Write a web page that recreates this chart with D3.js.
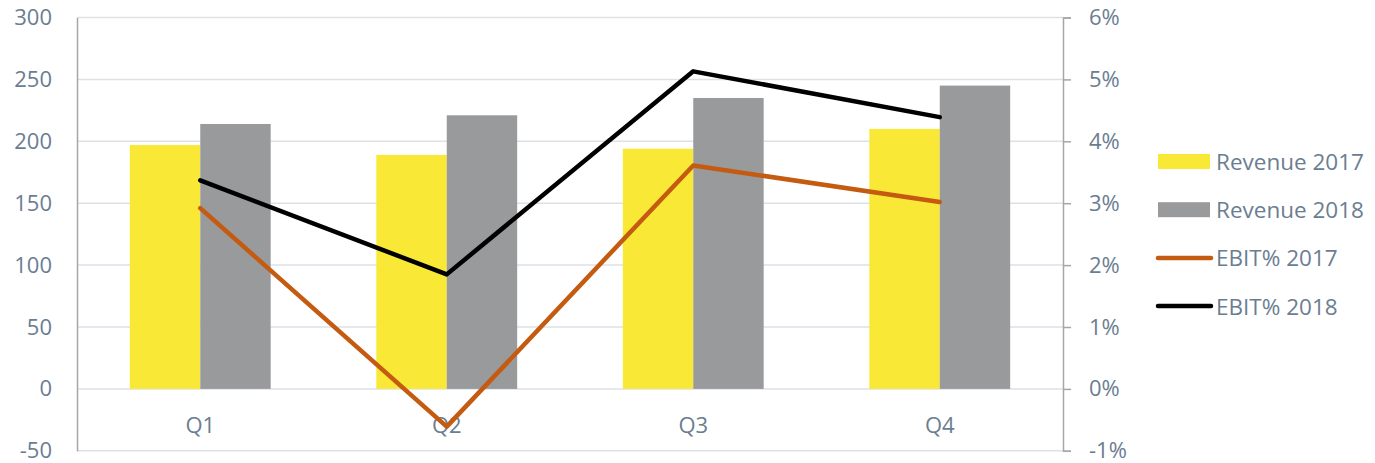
<!DOCTYPE html>
<html>
<head>
<meta charset="utf-8">
<script src="https://cdn.jsdelivr.net/npm/d3@7"></script>
<style>
  html, body { margin: 0; padding: 0; background: #fff; }
  svg { display: block; }
  text { font-family: "Open Sans", sans-serif; fill: #6b7d91; }
</style>
</head>
<body>
<svg id="chart" width="1375" height="463"></svg>
<script>
// Quarterly revenue (left axis) and EBIT margin (right axis, %)
const quarters = ["Q1", "Q2", "Q3", "Q4"];
const revenue2017 = [197, 189, 194, 210];
const revenue2018 = [214, 221, 235, 245];
const ebit2017 = [2.92, -0.61, 3.61, 3.02];
const ebit2018 = [3.37, 1.85, 5.13, 4.39];
const leftTicks = [-50, 0, 50, 100, 150, 200, 250, 300];
const rightTicks = [-1, 0, 1, 2, 3, 4, 5, 6];
const seriesNames = ["Revenue 2017", "Revenue 2018", "EBIT% 2017", "EBIT% 2018"];

const colors = {
  rev17: "#f9e936",
  rev18: "#999a9c",
  ebit17: "#c55a11",
  ebit18: "#000000",
  grid: "#dde1e6",
  axis: "#a6a6a6"
};

const svg = d3.select("#chart");
const plot = { left: 77, right: 1063, top: 17.5, bottom: 450.8 };

const x = d3.scaleBand().domain(quarters).range([plot.left, plot.right]);
const bars = d3.scaleBand().domain(["2017", "2018"])
  .range([0, x.bandwidth()]).paddingInner(0).paddingOuter(0.75);
const yL = d3.scaleLinear().domain([-50, 300]).range([plot.bottom, plot.top]);
const yR = d3.scaleLinear().domain([-1, 6]).range([plot.bottom, plot.top]);

// Plain hyphen for negative numbers
const fmt = d => (d < 0 ? "-" : "") + Math.abs(d);

// Horizontal gridlines
svg.append("g").selectAll("line").data(leftTicks).join("line")
  .attr("x1", plot.left).attr("x2", plot.right)
  .attr("y1", d => yL(d)).attr("y2", d => yL(d))
  .attr("stroke", colors.grid).attr("stroke-width", 1.5);

// Left axis
const leftAxis = svg.append("g").attr("transform", `translate(${plot.left},0)`)
  .call(d3.axisLeft(yL).tickValues(leftTicks).tickSize(0).tickPadding(25).tickFormat(fmt));
leftAxis.select(".domain").attr("stroke", colors.axis).attr("stroke-width", 1.5);
leftAxis.selectAll("text").style("font-size", "22px").attr("fill", "#6b7d91").attr("font-family", null);

// Right axis
const rightAxis = svg.append("g").attr("transform", `translate(${plot.right},0)`)
  .call(d3.axisRight(yR).tickValues(rightTicks).tickSize(8).tickSizeOuter(8)
    .tickPadding(18).tickFormat(d => fmt(d) + "%"));
rightAxis.selectAll(".domain, .tick line").attr("stroke", colors.axis).attr("stroke-width", 1.5);
rightAxis.selectAll("text").style("font-size", "22px").attr("fill", "#6b7d91").attr("font-family", null);

// Revenue bars
const groups = svg.append("g").selectAll("g").data(quarters).join("g")
  .attr("transform", d => `translate(${x(d)},0)`);
groups.append("rect")
  .attr("x", bars("2017")).attr("width", bars.bandwidth())
  .attr("y", (d, i) => yL(revenue2017[i]))
  .attr("height", (d, i) => yL(0) - yL(revenue2017[i]))
  .attr("fill", colors.rev17);
groups.append("rect")
  .attr("x", bars("2018")).attr("width", bars.bandwidth())
  .attr("y", (d, i) => yL(revenue2018[i]))
  .attr("height", (d, i) => yL(0) - yL(revenue2018[i]))
  .attr("fill", colors.rev18);

// Category labels
svg.append("g").selectAll("text").data(quarters).join("text")
  .attr("x", d => x(d) + x.bandwidth() / 2).attr("y", 424)
  .attr("text-anchor", "middle").attr("dominant-baseline", "central")
  .style("font-size", "22px").text(d => d);

// EBIT lines
const line = d3.line()
  .x((d, i) => x(quarters[i]) + x.bandwidth() / 2)
  .y(d => yR(d));
[[ebit2017, colors.ebit17], [ebit2018, colors.ebit18]].forEach(([vals, c]) => {
  svg.append("path").datum(vals).attr("d", line)
    .attr("fill", "none").attr("stroke", c).attr("stroke-width", 4.5)
    .attr("stroke-linejoin", "round").attr("stroke-linecap", "round");
});

// Legend
const legend = svg.append("g");
const legendItems = [
  { name: seriesNames[0], type: "rect", color: colors.rev17 },
  { name: seriesNames[1], type: "rect", color: colors.rev18 },
  { name: seriesNames[2], type: "line", color: colors.ebit17 },
  { name: seriesNames[3], type: "line", color: colors.ebit18 }
];
legendItems.forEach((item, i) => {
  const cy = 161.5 + i * 48.2;
  if (item.type === "rect") {
    legend.append("rect").attr("x", 1158).attr("y", cy - 7.5)
      .attr("width", 52).attr("height", 15).attr("fill", item.color);
  } else {
    legend.append("line").attr("x1", 1158).attr("x2", 1211)
      .attr("y1", cy).attr("y2", cy)
      .attr("stroke", item.color).attr("stroke-width", 4.5).attr("stroke-linecap", "round");
  }
  legend.append("text").attr("x", 1216).attr("y", cy)
    .attr("dominant-baseline", "central").style("font-size", "22.5px").text(item.name);
});
</script>
</body>
</html>
